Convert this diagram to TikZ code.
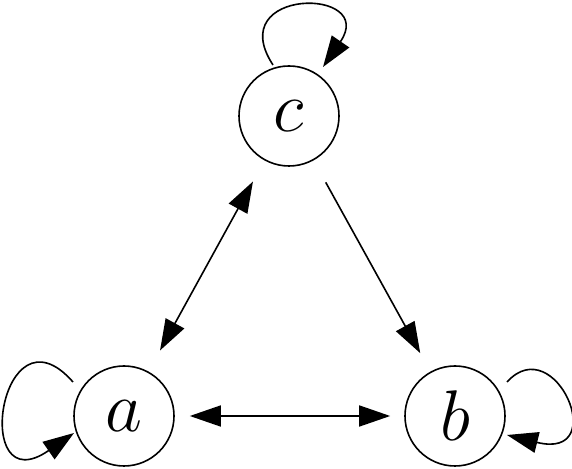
\documentclass[tikz,border=0pt]{standalone}
\usepackage{graphicx}
\usetikzlibrary{arrows.meta,calc}
\newcommand{\biglabel}[1]{\scalebox{2.894}{\fontsize{24.88}{30}\selectfont$#1$}}
\begin{document}
\begin{tikzpicture}[x=1bp,y=1bp,
  state/.style={draw,circle,line width=1.6bp,minimum size=100bp,inner sep=0pt},
  edge/.style={line width=1.6bp,-{Triangle[length=31bp,width=21bp]}},
  both/.style={line width=1.6bp,{Triangle[length=31bp,width=21bp]}-{Triangle[length=31bp,width=21bp]}}]
\useasboundingbox (0,0) rectangle (572,469);
\node[state] (c) at (289,353) {\biglabel{c}};
\node[state] (a) at (124,53) {\biglabel{a}};
\node[state] (b) at (455,53) {\biglabel{b}};
% straight connectors
\draw[both,shorten <=24bp,shorten >=24bp] (c) -- (a);
\draw[edge,shorten <=25bp,shorten >=21bp] (c) -- (b);
\draw[both,shorten <=15bp,shorten >=14bp] (a) -- (b);
% loop end points
\coordinate (cs) at ($(c)+(-16,51)$);
\coordinate (ce) at ($(c)+(34,49)$);
\coordinate (as) at ($(a)+(-51,34)$);
\coordinate (ae) at ($(a)+(-50,-17)$);
\coordinate (bs) at ($(b)+(52,34)$);
\coordinate (be) at ($(b)+(52,-19)$);
% loops
\draw[edge] (cs) .. controls (222,482) and (378,482) .. (ce);
\draw[edge] (as) .. controls (0,170) and (-30,-36) .. (ae);
\draw[edge] (bs) .. controls (555,140) and (612,8) .. (be);
\end{tikzpicture}
\end{document}
